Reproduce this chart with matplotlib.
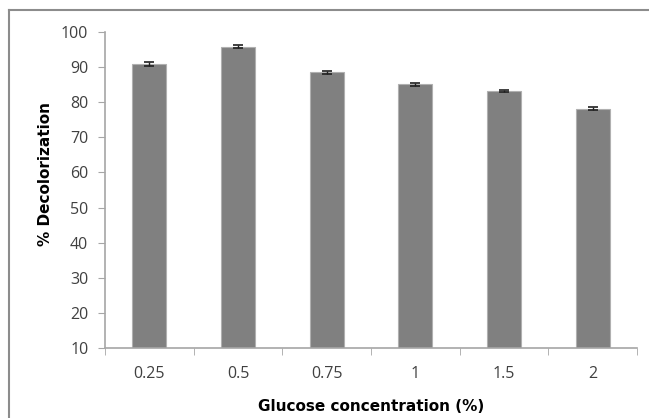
import matplotlib.pyplot as plt

# data
concentrations = ["0.25", "0.5", "0.75", "1", "1.5", "2"]
decolorization = [90.9, 95.8, 88.5, 85.1, 83.1, 78.1]
errors = [0.5, 0.4, 0.5, 0.4, 0.3, 0.4]
y_ticks = [10, 20, 30, 40, 50, 60, 70, 80, 90, 100]

axis_grey = "#a6a6a6"
text_grey = "#404040"

fig = plt.figure(figsize=(6.49, 4.18), dpi=100)
ax = fig.add_axes([105 / 649, 1 - 348 / 418, (637 - 105) / 649, (348 - 32) / 418])

x = list(range(len(concentrations)))
ax.bar(x, decolorization, width=0.38, bottom=0, color="#808080",
       edgecolor="#b0b0b0", linewidth=0.8, zorder=2)
ax.errorbar(x, decolorization, yerr=errors, fmt="none", ecolor="#202020",
            elinewidth=1.0, capsize=3.5, capthick=1.2, zorder=3)

ax.set_xlim(-0.5, len(concentrations) - 0.5)
ax.set_ylim(10, 100)
ax.set_yticks(y_ticks)

# category labels centred, ticks on the boundaries
ax.set_xticks(x)
ax.set_xticklabels(concentrations)
ax.set_xticks([i - 0.5 for i in range(len(concentrations) + 1)], minor=True)
ax.tick_params(axis="x", which="major", length=0, pad=13)
ax.tick_params(axis="x", which="minor", length=5, color=axis_grey, direction="out")
ax.tick_params(axis="y", length=5, color=axis_grey, direction="out", pad=7)
ax.tick_params(labelsize=11.5, labelcolor=text_grey)
for lbl in ax.get_xticklabels() + ax.get_yticklabels():
    lbl.set_family("Open Sans")

for side in ["top", "right"]:
    ax.spines[side].set_visible(False)
for side in ["left", "bottom"]:
    ax.spines[side].set_color(axis_grey)
    ax.spines[side].set_linewidth(1.2)

ax.set_ylabel("% Decolorization", fontsize=11, fontweight="heavy",
              family="DejaVu Sans")
ax.yaxis.set_label_coords(-0.098, 0.55)
ax.set_xlabel("Glucose concentration (%)", fontsize=11, fontweight="heavy",
              family="DejaVu Sans", labelpad=12)

# outer frame of the chart (open on the right and bottom)
fig.add_artist(plt.Line2D([9 / 649, 9 / 649], [0, 1 - 10 / 418],
                          transform=fig.transFigure, color="#8c8c8c", linewidth=1.5))
fig.add_artist(plt.Line2D([9 / 649, 1], [1 - 10 / 418, 1 - 10 / 418],
                          transform=fig.transFigure, color="#8c8c8c", linewidth=1.5))

fig.savefig("out.png", dpi=100)
